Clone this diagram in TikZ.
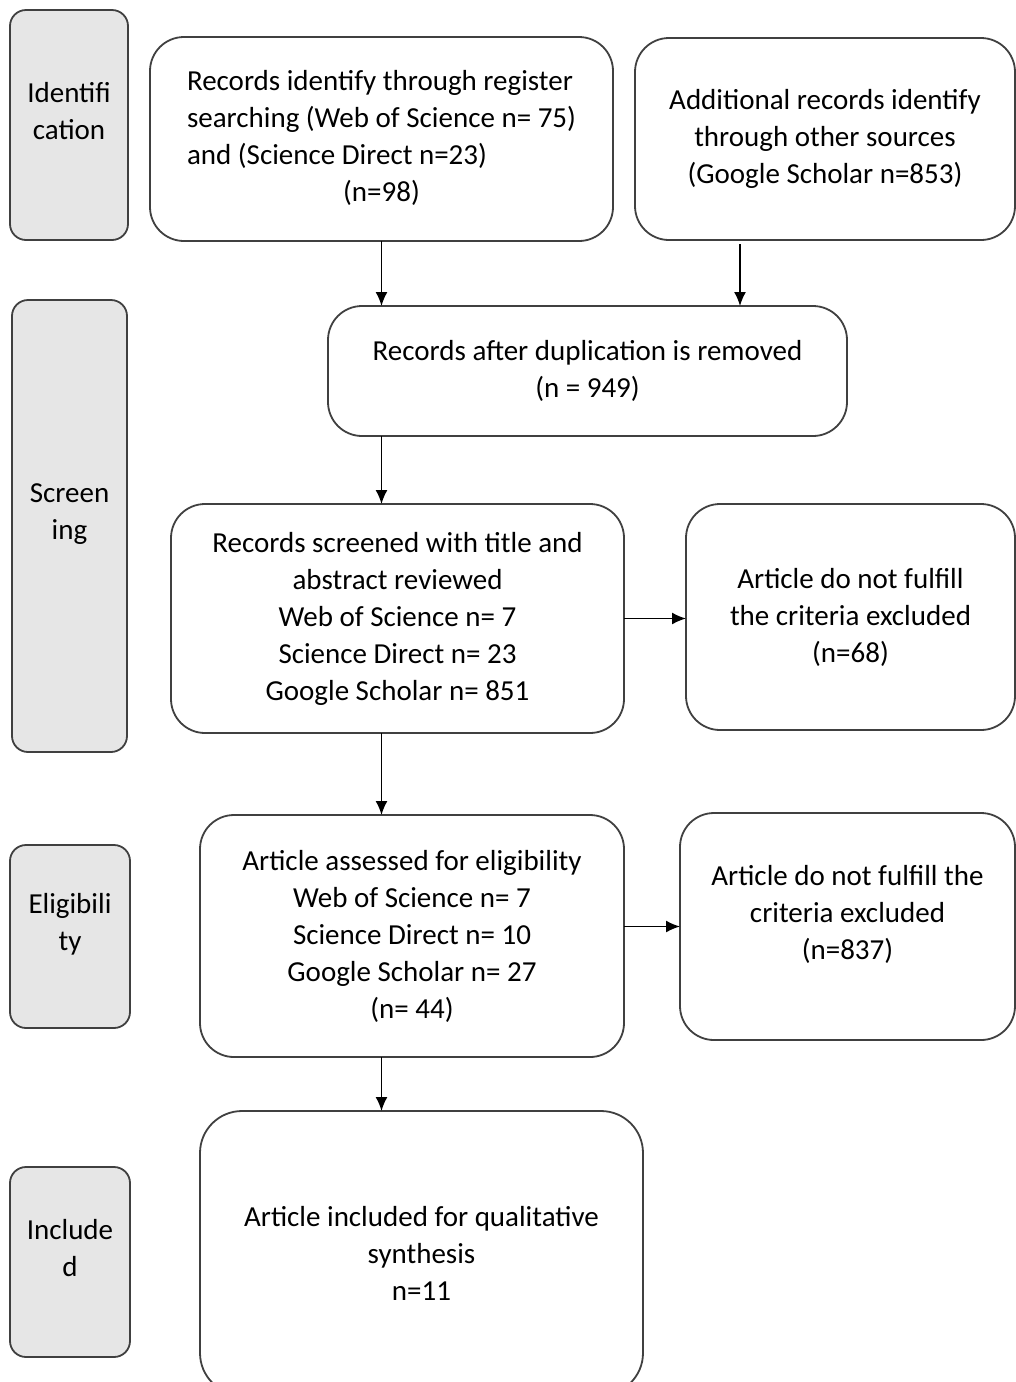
\documentclass[tikz,border=0pt]{standalone}
\usepackage{fontspec}
\setmainfont{Carlito}
\definecolor{darkgrey}{RGB}{64,64,64}
\definecolor{stagegrey}{RGB}{230,230,230}
\usetikzlibrary{shapes,arrows.meta,positioning,calc}

\begin{document}
\begin{tikzpicture}[x=0.5pt,y=-0.5pt,
    every node/.style={font=\fontsize{14.5}{18.5}\selectfont},
    stage/.style={draw=darkgrey,fill=stagegrey,rounded corners=8pt,line width=0.9pt,
                  align=center,inner sep=0pt,outer sep=0pt},
    box/.style={draw=darkgrey,fill=white,rounded corners=17pt,line width=0.9pt,
                align=center,inner sep=0pt,outer sep=0pt},
    arr/.style={-{Latex[length=7pt,width=6pt]},line width=0.8pt}]
\useasboundingbox (0,0) rectangle (1016,1382);

% stages on the left
\node[stage,minimum width=59pt,minimum height=115pt] (idstage) at (69,125)
    {Identifi\\cation\\[-4pt]\mbox{}};
\node[stage,minimum width=57.5pt,minimum height=226pt] (scrstage) at (69.5,526)
    {Screen\\ing\\[-4pt]\mbox{}};
\node[stage,minimum width=60pt,minimum height=91.5pt] (eligstage) at (70,936.5)
    {Eligibili\\ty\\[-4pt]\mbox{}};
\node[stage,minimum width=60pt,minimum height=95pt] (inclstage) at (70,1262)
    {Include\\d\\[-4pt]\mbox{}};

% flow boxes
\node[box,minimum width=231.5pt,minimum height=102pt] (rec) at (381.5,139) {%
    \begin{tabular}{@{}l@{}}
    Records identify through register\\
    searching (Web of Science n= 75)\\
    and (Science Direct n=23)\\
    \multicolumn{1}{@{}c@{}}{(n=98)}
    \end{tabular}};
\node[box,minimum width=190pt,minimum height=101pt] (addrec) at (825,139)
    {Additional records identify\\through other sources\\(Google Scholar n=853)};
\node[box,minimum width=259.5pt,minimum height=65pt] (dup) at (587.5,371)
    {Records after duplication is removed\\(n = 949)};
\node[box,minimum width=226.5pt,minimum height=114.5pt] (screen) at (397.5,618.5)
    {Records screened with title and\\abstract reviewed\\Web of Science n= 7\\
     Science Direct n= 23\\Google Scholar n= 851};
\node[box,minimum width=164.5pt,minimum height=113pt] (excl1) at (850.5,617)
    {Article do not fulfill\\the criteria excluded\\(n=68)};
\node[box,minimum width=212pt,minimum height=121pt] (elig) at (412,936)
    {Article assessed for eligibility\\Web of Science n= 7\\Science Direct n= 10\\
     Google Scholar n= 27\\(n= 44)};
\node[box,minimum width=167.5pt,minimum height=113.5pt] (excl2) at (847.5,926.5)
    {Article do not fulfill the\\criteria excluded\\(n=837)\\[-4pt]\mbox{}};
\node[box,rounded corners=21pt,minimum width=221.5pt,minimum height=142pt] (incl) at (421.5,1253)
    {Article included for qualitative\\synthesis\\n=11};

% arrows
\draw[arr] (rec.south) -- (rec.south |- dup.north);
\draw[arr] ([xshift=-42.5pt,yshift=-2pt]addrec.south) -- ([xshift=-42.5pt]addrec.south |- dup.north);
\draw[arr] (rec.south |- dup.south) -- (rec.south |- screen.north);
\draw[arr] (screen.east) -- (screen.east -| excl1.west);
\draw[arr] (rec.south |- screen.south) -- (rec.south |- elig.north);
\draw[arr] (elig.east |- excl2.west) -- (excl2.west);
\draw[arr] (rec.south |- elig.south) -- (rec.south |- incl.north);
\end{tikzpicture}
\end{document}
